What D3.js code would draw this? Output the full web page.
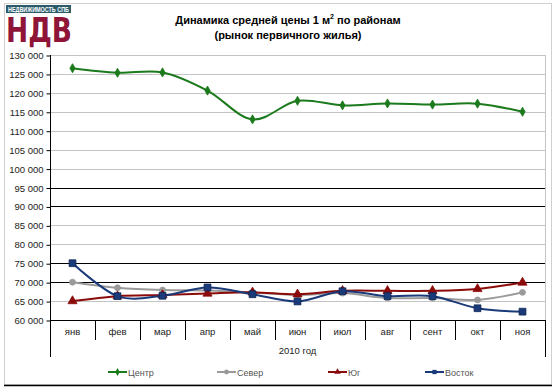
<!DOCTYPE html>
<html>
<meta charset="utf-8">
<head>
<title>Динамика средней цены</title>
<style>
body { margin: 0; background: #fff; }
svg { font-family: Arial, "Liberation Sans", sans-serif; }
.title { font-size: 11px; font-weight: bold; text-anchor: middle; }
.tick text { font-size: 9.5px; fill: #222; }
.legend text { font-size: 9px; fill: #555; }
</style>
</head>
<body>
<script src="https://cdnjs.cloudflare.com/ajax/libs/d3/7.8.5/d3.min.js"></script>
<script>

// data
var months = ["янв", "фев", "мар", "апр", "май", "июн", "июл", "авг", "сент", "окт", "ноя"];
var center = [126500, 125300, 125400, 120600, 113000, 117900, 116700, 117200, 116900, 117150, 115000];
var north  = [70000, 68500, 67900, 67800, 67300, 66600, 67100, 65800, 65800, 65300, 67300];
var south  = [65000, 66300, 66600, 67000, 67300, 66800, 67700, 67700, 67700, 68200, 69900];
var east   = [75000, 66300, 66400, 68600, 66800, 64900, 67600, 66300, 66300, 63100, 62200];
var yTicks = [60000, 65000, 70000, 75000, 80000, 85000, 90000, 95000, 100000, 105000, 110000, 115000, 120000, 125000, 130000];
var darkGrid = [70000, 75000, 90000, 95000];

var series = [
  {name: "Центр",  values: center, color: "#1b7a1b", shape: "diamond"},
  {name: "Север",  values: north,  color: "#9a9a9a", shape: "circle"},
  {name: "Юг",     values: south,  color: "#8b0a0a", shape: "triangle"},
  {name: "Восток", values: east,   color: "#1a3a7a", shape: "square"}
];

var W = 555, H = 388;
var pL = 50, pR = 545, pT = 55, pB = 320;

var svg = d3.select("body").append("svg")
    .attr("width", W)
    .attr("height", H);

// chart frame
svg.append("rect")
    .attr("x", 4.5).attr("y", 3.5)
    .attr("width", 547).attr("height", 381)
    .style("fill", "#fff")
    .style("stroke", "#d0d0d0");
svg.append("line")
    .attr("x1", 4).attr("x2", 552)
    .attr("y1", 385.5).attr("y2", 385.5)
    .style("stroke", "#000").style("stroke-width", 1.5);

// logo
svg.append("rect")
    .attr("x", 6).attr("y", 5).attr("width", 65).attr("height", 8)
    .style("fill", "#2b5b6b");
svg.append("text")
    .attr("x", 8).attr("y", 11.5)
    .style("font-size", "6.5px").style("font-weight", "bold")
    .style("fill", "#fff")
    .attr("textLength", 61).attr("lengthAdjust", "spacingAndGlyphs")
    .text("НЕДВИЖИМОСТЬ СПБ");
svg.append("text")
    .attr("x", 6).attr("y", 42)
    .style("font-family", "'DejaVu Sans', sans-serif")
    .style("font-size", "34px").style("font-weight", "bold")
    .style("fill", "#8e1538")
    .attr("textLength", 66).attr("lengthAdjust", "spacingAndGlyphs")
    .text("НДВ");

// title
var t1 = svg.append("text").attr("class", "title").attr("x", 288).attr("y", 24);
t1.append("tspan").text("Динамика средней цены 1 м");
t1.append("tspan").attr("dy", -5).style("font-size", "7px").text("2");
t1.append("tspan").attr("dy", 5).text(" по районам");
svg.append("text").attr("class", "title").attr("x", 288).attr("y", 39)
    .text("(рынок первичного жилья)");

var x = d3.scaleBand()
    .domain(months)
    .range([pL, pR]);

var y = d3.scaleLinear()
    .domain([60000, 130000])
    .range([pB, pT]);

// gridlines
svg.append("g").selectAll("line")
  .data(yTicks.slice(1)).enter()
  .append("line")
    .attr("x1", pL).attr("x2", pR)
    .attr("y1", d => Math.round(y(d)) + 0.5)
    .attr("y2", d => Math.round(y(d)) + 0.5)
    .style("stroke", d => darkGrid.indexOf(d) >= 0 ? "#000" : "#c4c4c4");

// plot right edge
svg.append("line")
    .attr("x1", pR + 0.5).attr("x2", pR + 0.5)
    .attr("y1", pT).attr("y2", pB)
    .style("stroke", "#c4c4c4");

// y axis
var yAxis = svg.append("g")
    .attr("transform", "translate(" + (pL + 0.5) + ",0.5)")
    .call(d3.axisLeft(y).tickValues(yTicks).tickSize(4).tickPadding(3)
      .tickFormat(d => d3.format(",")(d).replace(",", " ")));
yAxis.select(".domain").remove();
yAxis.selectAll("line").style("stroke", "#000");

// x axis (two-level categories)
var xg = svg.append("g");
xg.append("line")
    .attr("x1", pL).attr("x2", pR)
    .attr("y1", pB + 0.5).attr("y2", pB + 0.5)
    .style("stroke", "#000");
xg.append("line")
    .attr("x1", pL + 0.5).attr("x2", pL + 0.5)
    .attr("y1", pT).attr("y2", pB + 37)
    .style("stroke", "#000");
xg.append("line")
    .attr("x1", pR + 0.5).attr("x2", pR + 0.5)
    .attr("y1", pB).attr("y2", pB + 37)
    .style("stroke", "#000");
xg.selectAll(".div")
  .data(months.slice(1)).enter()
  .append("line")
    .attr("x1", d => Math.round(x(d)) + 0.5)
    .attr("x2", d => Math.round(x(d)) + 0.5)
    .attr("y1", pB).attr("y2", pB + 20)
    .style("stroke", "#000");
xg.selectAll(".mlab")
  .data(months).enter()
  .append("text")
    .attr("x", d => x(d) + x.bandwidth() / 2)
    .attr("y", pB + 15)
    .style("text-anchor", "middle")
    .style("font-size", "9.5px")
    .style("fill", "#222")
    .text(d => d);
xg.append("text")
    .attr("x", (pL + pR) / 2)
    .attr("y", pB + 34)
    .style("text-anchor", "middle")
    .style("font-size", "9.5px")
    .style("fill", "#222")
    .text("2010 год");

// lines
var line = d3.line()
    .x((d, i) => x(months[i]) + x.bandwidth() / 2)
    .y(d => y(d))
    .curve(d3.curveCardinal.tension(0));

var symType = {
  diamond: d3.symbolDiamond,
  circle: d3.symbolCircle,
  triangle: d3.symbolTriangle,
  square: d3.symbolSquare
};
var symSize = {diamond: 24, circle: 28, triangle: 36, square: 46};

var draw = [series[1], series[2], series[3], series[0]];
draw.forEach(function(s) {
  svg.append("path")
      .attr("d", line(s.values))
      .style("fill", "none")
      .style("stroke", s.color)
      .style("stroke-width", 2);
  svg.append("g").selectAll("path")
    .data(s.values).enter()
    .append("path")
      .attr("transform", (d, i) => "translate(" + (x(months[i]) + x.bandwidth() / 2) + "," + y(d) + ")")
      .attr("d", d3.symbol().type(symType[s.shape]).size(symSize[s.shape]))
      .style("fill", s.color)
      .style("stroke", s.shape == "square" ? "#0d2450" : s.color)
      .style("stroke-width", 0.8);
});

// legend
var legX = [108, 217, 328, 425];
var leg = svg.append("g").attr("class", "legend");
series.forEach(function(s, i) {
  var g = leg.append("g").attr("transform", "translate(" + legX[i] + ",372)");
  g.append("line").attr("x1", 0).attr("x2", 19)
    .style("stroke", s.color).style("stroke-width", 2);
  g.append("path")
    .attr("transform", "translate(9.5,0)")
    .attr("d", d3.symbol().type(symType[s.shape]).size(18))
    .style("fill", s.color);
  g.append("text").attr("x", 20).attr("y", 3.5).text(s.name);
});

</script>
</body>
</html>
